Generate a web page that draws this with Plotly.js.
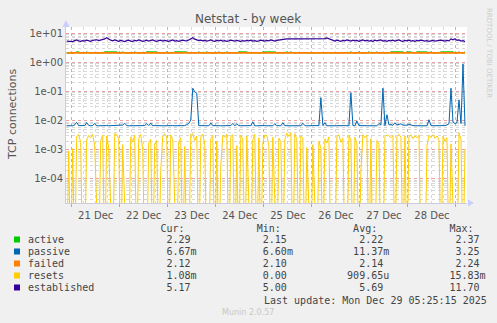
<!DOCTYPE html>
<html><head><meta charset="utf-8">
<script src="https://cdn.plot.ly/plotly-3.0.1.min.js"></script>
<style>html,body{margin:0;padding:0;background:#f0f0f0;}#chart{width:497px;height:323px;}</style>
</head><body><div id="chart"></div>
<script>
// ---- data (hourly samples, first sample 2025-12-20 21:30) ----
const seriesNames = ['active','passive','failed','resets','established'];
const seriesColors = ['#00cc00','#0066b3','#ff8000','#ffcc00','#330099'];
const startTime = '2025-12-20T21:30:00Z';

const active = [
2.13,2.13,2.12,2.14,2.13,2.32,2.31,2.13,2.14,2.13,
2.31,2.12,2.13,2.13,2.14,2.13,2.12,2.13,2.13,2.32,
2.31,2.33,2.30,2.32,2.31,2.30,2.14,2.13,2.31,2.12,
2.13,2.14,2.13,2.13,2.31,2.13,2.13,2.14,2.13,2.12,
2.32,2.30,2.31,2.33,2.30,2.31,2.13,2.13,2.14,2.13,
2.31,2.13,2.13,2.14,2.32,2.30,2.31,2.33,2.30,2.32,
2.31,2.14,2.15,2.16,2.14,2.13,2.31,2.12,2.13,2.14,
2.32,2.13,2.12,2.13,2.14,2.13,2.31,2.12,2.13,2.13,
2.31,2.13,2.12,2.13,2.13,2.14,2.32,2.30,2.31,2.33,
2.31,2.14,2.13,2.12,2.13,2.13,2.14,2.13,2.31,2.32,
2.30,2.31,2.33,2.30,2.31,2.13,2.13,2.14,2.13,2.13,
2.31,2.14,2.32,2.14,2.14,2.14,2.14,2.14,2.14,2.14,
2.14,2.14,2.14,2.14,2.14,2.14,2.14,2.14,2.14,2.15,
2.16,2.14,2.13,2.13,2.12,2.13,2.14,2.13,2.13,2.12,
2.13,2.14,2.32,2.13,2.12,2.13,2.31,2.14,2.13,2.12,
2.13,2.32,2.14,2.13,2.12,2.31,2.13,2.14,2.13,2.13,
2.12,2.13,2.32,2.30,2.31,2.33,2.30,2.31,2.32,2.13,
2.31,2.32,2.30,2.14,2.13,2.32,2.31,2.30,2.33,2.31,
2.30,2.12,2.31,2.13,2.14,2.13,2.13,2.31,2.32,2.30,
2.33,2.31,2.30,2.32,2.13,2.13,2.31,2.13,2.13,2.29];

const passive = [
.0067,.0067,.0068,.0067,.0072,.0088,.0068,.0067,.0067,.0068,
.0086,.0069,.0067,.0068,.0082,.0067,.0067,.0068,.0067,.0067,
.0068,.0067,.0067,.0068,.0067,.0067,.0068,.0067,.0071,.0082,
.0068,.0067,.0067,.0068,.0067,.0067,.0068,.0067,.0067,.0068,
.0080,.0068,.0083,.0067,.0068,.0067,.0067,.0068,.0067,.0067,
.0068,.0067,.0067,.0068,.0067,.0067,.0068,.0067,.0067,.0068,
.0074,.0080,.0105,.13,.098,.088,.0068,.0067,.0067,.0068,
.0067,.0067,.0084,.0068,.0067,.0067,.0068,.0067,.0067,.0068,
.0067,.0067,.0068,.0081,.0067,.0078,.0068,.0067,.0067,.0068,
.0067,.0067,.0068,.0092,.0067,.0067,.0068,.0067,.0067,.0068,
.0067,.0067,.0068,.0067,.0079,.0067,.0068,.0067,.0085,.0068,
.0067,.0067,.0068,.0067,.0067,.0067,.0068,.0067,.0082,.0068,
.0067,.0067,.0068,.0067,.0067,.0067,.0068,.062,.0068,.0085,
.0067,.0067,.0068,.0067,.0067,.0067,.0068,.0067,.0067,.0068,
.0067,.0067,.092,.0068,.0067,.0098,.0068,.0067,.0067,.0068,
.0067,.0067,.0068,.0067,.0067,.0067,.0080,.0072,.13,.0068,
.016,.0072,.0074,.0070,.0085,.0072,.0074,.0078,.0071,.0072,
.0070,.0076,.0070,.0068,.0067,.0067,.0068,.0067,.0067,.0068,
.0067,.0108,.0068,.0067,.0067,.0067,.0068,.0067,.0067,.0068,
.0072,.0078,.13,.0090,.0080,.0086,.052,.0080,.88,.00667];

const failed = [
2.13,2.13,2.12,2.14,2.13,2.13,2.12,2.13,2.14,2.13,
2.13,2.12,2.13,2.13,2.14,2.13,2.12,2.13,2.13,2.14,
2.15,2.14,2.13,2.13,2.12,2.13,2.14,2.13,2.13,2.12,
2.13,2.14,2.13,2.13,2.12,2.13,2.13,2.14,2.13,2.12,
2.13,2.14,2.13,2.15,2.13,2.12,2.13,2.13,2.14,2.13,
2.12,2.13,2.13,2.14,2.13,2.13,2.12,2.13,2.14,2.13,
2.13,2.14,2.15,2.16,2.14,2.13,2.13,2.12,2.13,2.14,
2.13,2.13,2.12,2.13,2.14,2.13,2.13,2.12,2.13,2.13,
2.14,2.13,2.12,2.13,2.13,2.14,2.13,2.13,2.12,2.13,
2.13,2.14,2.13,2.12,2.13,2.13,2.14,2.13,2.13,2.12,
2.13,2.14,2.13,2.13,2.12,2.13,2.13,2.14,2.13,2.13,
2.14,2.14,2.14,2.14,2.14,2.14,2.14,2.14,2.14,2.14,
2.14,2.14,2.14,2.14,2.14,2.14,2.14,2.14,2.14,2.15,
2.16,2.14,2.13,2.13,2.12,2.13,2.14,2.13,2.13,2.12,
2.13,2.14,2.13,2.13,2.12,2.13,2.13,2.14,2.13,2.12,
2.13,2.13,2.14,2.13,2.12,2.13,2.13,2.14,2.13,2.13,
2.12,2.13,2.14,2.13,2.13,2.12,2.13,2.13,2.14,2.13,
2.13,2.12,2.13,2.14,2.13,2.13,2.12,2.13,2.13,2.14,
2.13,2.12,2.13,2.13,2.14,2.13,2.13,2.12,2.13,2.13,
2.14,2.13,2.15,2.14,2.13,2.13,2.12,2.13,2.13,2.12];

const resets = [
0,9e-4,0,1.1e-3,0,2.9e-3,3.3e-3,1.8e-3,0,0,
2.2e-3,3.1e-3,2.6e-3,3.4e-3,1.4e-3,0,0,2.0e-3,3.2e-3,0,
3.0e-3,1.2e-3,0,0,3.6e-3,3.3e-3,2.4e-3,0,1.5e-3,0,
0,0,2.7e-3,1.9e-3,3.2e-3,0,2.5e-3,3.4e-3,1.1e-3,0,
0,1.8e-3,2.3e-3,0,1.6e-3,2.1e-3,0,2e-4,3.0e-3,3.5e-3,
2.8e-3,0,3.3e-3,2.2e-3,0,0,1.9e-3,2.6e-3,0,1.3e-3,
0,0,3.4e-3,3.6e-3,2.1e-3,3.0e-3,0,2.8e-3,3.5e-3,1.6e-3,
0,0,2.4e-3,3.1e-3,0,2.0e-3,0,3e-4,3.2e-3,2.7e-3,
3.5e-3,0,2.9e-3,3.3e-3,0,1.4e-3,0,3.1e-3,2.4e-3,0,
3.0e-3,0,0,2.2e-3,3.4e-3,0,2.6e-3,0,1.8e-3,3.2e-3,
3.1e-3,1.4e-3,0,2.7e-3,0,0,2.5e-3,1.9e-3,0,2.3e-3,
3.8e-3,2.9e-3,3.9e-3,0,3.6e-3,2.2e-3,0,3.0e-3,2.6e-3,0,
1.2e-3,0,0,1.5e-3,0,0,2.0e-3,1.1e-3,0,2.4e-3,
1.7e-3,2.8e-3,0,0,0,2.9e-3,3.3e-3,1.8e-3,2.5e-3,0,
0,3.1e-3,2.2e-3,0,2.7e-3,1.6e-3,0,2e-4,3.3e-3,2.6e-3,
3.2e-3,0,2.4e-3,0,0,2.1e-3,1.5e-3,0,0,2.8e-3,
3.3e-3,3.0e-3,2.6e-3,3.1e-3,0,2.9e-3,3.4e-3,2.7e-3,0,3.0e-3,
0,2.8e-3,3.3e-3,2.4e-3,3.0e-3,2.6e-3,3.2e-3,0,0,0,
1.4e-3,3.1e-3,2.7e-3,3.3e-3,2.5e-3,3.0e-3,2.2e-3,0,2.9e-3,2.0e-3,
2.6e-3,0,1.6e-3,0,0,0,3.8e-3,2.3e-3,0,1.08e-3];

const established = [
5.4,5.3,5.5,5.2,5.6,5.9,5.5,5.3,5.6,5.4,
5.8,5.5,5.3,5.7,5.9,6.0,5.6,5.8,6.1,6.4,
7.0,6.2,5.8,5.5,5.9,5.6,5.3,5.7,5.5,5.2,
5.6,5.8,5.4,5.3,5.7,5.5,5.9,5.6,5.3,5.5,
5.8,5.4,5.6,5.9,5.5,5.3,5.6,5.8,5.4,5.7,
5.5,5.3,5.6,5.9,5.4,5.6,5.3,5.5,5.8,5.6,
5.5,5.9,6.4,7.1,6.3,5.9,5.6,5.8,5.5,5.7,
5.4,5.6,5.9,5.5,5.3,5.7,5.5,5.8,5.4,5.6,
5.3,5.5,5.8,5.6,5.4,5.7,5.5,5.3,5.6,5.4,
5.7,5.5,5.8,5.4,5.6,5.3,5.5,5.8,5.6,5.4,
5.7,5.5,5.9,5.6,5.4,5.7,5.9,6.1,6.3,6.4,
6.4,6.4,6.3,6.4,6.4,6.4,6.4,6.3,6.4,6.4,
6.4,6.4,6.4,6.3,6.4,6.4,6.4,6.4,6.4,6.6,
6.9,6.4,5.9,5.6,5.4,5.8,5.5,5.3,5.7,5.5,
5.9,5.6,5.4,5.8,5.5,5.7,5.3,5.6,5.9,5.5,
5.7,5.4,5.6,5.3,5.8,5.5,5.7,5.9,5.4,5.6,
5.3,5.7,5.5,5.8,5.4,5.6,5.9,5.5,5.3,5.7,
5.5,5.8,5.4,5.6,5.3,5.7,5.5,5.8,5.6,5.4,
5.6,5.3,5.5,5.7,5.4,5.6,5.5,5.8,5.6,5.4,
5.7,5.5,6.4,6.0,6.5,5.7,5.9,5.4,5.6,5.17];

// legend table values
const curVals = ['2.29','6.67m','2.12','1.08m','5.17'];
const minVals = ['2.15','6.60m','2.10','0.00','5.00'];
const avgVals = ['2.22','11.37m','2.14','909.65u','5.69'];
const maxVals = ['2.37','3.25','2.24','15.83m','11.70'];
const colHeaders = ['Cur:','Min:','Avg:','Max:'];

const yTickVals = [1e-4,1e-3,1e-2,1e-1,1,10];
const yTickText = ['1e-04','1e-03','1e-02','1e-01','1e+00','1e+01'];

const titleText = 'Netstat - by week';
const yTitleText = 'TCP connections';
const lastUpdate = 'Last update: Mon Dec 29 05:25:15 2025';
const sideText = 'RRDTOOL / TOBI OETIKER';
const footerText = 'Munin 2.0.57';

// ---- build ----
const t0 = Date.parse(startTime);
const times = active.map((_, i) => new Date(t0 + i*3600000).toISOString().slice(0,16).replace('T',' '));
const all = [active, passive, failed, resets, established];
const LOGFLOOR = 1e-7; // zero values drawn to the bottom of the log axis (like rrdtool)
const widths = [1, 1, 1.6, 1, 1.2];

const traces = all.map((arr, k) => ({
  x: times, y: arr.map(v => v > 0 ? v : LOGFLOOR),
  type: 'scatter', mode: 'lines', name: seriesNames[k],
  line: {color: seriesColors[k], width: widths[k]}, hoverinfo: 'skip'
}));

const L=66, R=467, T=27, B=203, W=R-L, H=B-T;
const px = x => (x - L)/W, py = y => (B - y)/H;

const yMinor = [];
for (let e = -5; e <= 1; e++) for (let m = 2; m <= 9; m++) yMinor.push(m*Math.pow(10,e));

const NB = '\u00a0';
const sp = n => NB.repeat(n);
function cell(s){ const m = s.match(/^([0-9.]+)([a-zA-Z]?)$/); const num = m[1], suf = m[2] || ''; return sp(6-num.length) + num + suf; }

const mono = {family: 'DejaVu Sans Mono, monospace', size: 10, color: '#444'};
const annotations = [];
annotations.push({xref:'paper', yref:'paper', x: px(26), y: py(228), xanchor:'left', yanchor:'middle', showarrow:false,
  text: sp(22) + colHeaders.join(sp(12)), font: mono});
seriesNames.forEach((n, k) => {
  const c = [curVals[k], minVals[k], avgVals[k], maxVals[k]].map(cell);
  const pad = s => s + sp(16 - s.length);
  const row = n + sp(21 - n.length) + pad(c[0]) + pad(c[1]) + pad(c[2]) + c[3];
  annotations.push({xref:'paper', yref:'paper', x: px(26), y: py(239.5 + 12*k), xanchor:'left', yanchor:'middle', showarrow:false, text: row, font: mono});
});
annotations.push({xref:'paper', yref:'paper', x: px(262), y: py(300), xanchor:'left', yanchor:'middle', showarrow:false, text: lastUpdate.replace(/ /g, NB), font: mono});
annotations.push({xref:'paper', yref:'paper', x: px(248), y: py(312), xanchor:'center', yanchor:'middle', showarrow:false, text: footerText, font:{family:'DejaVu Sans', size:8, color:'#c8c8c8'}});
annotations.push({xref:'paper', yref:'paper', x: px(248), y: py(19.5), xanchor:'center', yanchor:'middle', showarrow:false, text: titleText, font:{family:'DejaVu Sans', size:12, color:'#555'}});
annotations.push({xref:'paper', yref:'paper', x: px(12), y: py(115), xanchor:'center', yanchor:'middle', showarrow:false, textangle:-90, text: yTitleText, font:{family:'DejaVu Sans', size:11, color:'#555'}});
annotations.push({xref:'paper', yref:'paper', x: px(489), y: py(53), xanchor:'center', yanchor:'middle', showarrow:false, textangle:90, text: sideText, font:{family:'DejaVu Sans', size:7, color:'#cccccc'}});

const shapes = seriesColors.map((c, k) => ({type:'rect', xref:'paper', yref:'paper', x0: px(14), x1: px(20), y0: py(242.5 + 12*k), y1: py(236.5 + 12*k), fillcolor: c, line:{width:0}}));
// axis arrows
shapes.push({type:'path', xref:'paper', yref:'paper', path: `M ${px(468)} ${py(199.5)} L ${px(474)} ${py(203)} L ${px(468)} ${py(206.5)} Z`, fillcolor:'#ccccff', line:{width:0}});
shapes.push({type:'path', xref:'paper', yref:'paper', path: `M ${px(62.5)} ${py(27)} L ${px(66)} ${py(20)} L ${px(69.5)} ${py(27)} Z`, fillcolor:'#ccccff', line:{width:0}});

const layout = {
  width: 497, height: 323,
  margin: {l: L, r: 497 - R, t: T, b: 323 - B, pad: 0},
  paper_bgcolor: '#f0f0f0', plot_bgcolor: '#ffffff',
  showlegend: false,
  font: {family: 'DejaVu Sans', size: 10, color: '#555'},
  xaxis: {
    type: 'date', range: ['2025-12-20 21:10', '2025-12-29 05:30'],
    tick0: '2025-12-21', dtick: 86400000, tickformat: '%d %b', ticklabelmode: 'period',
    showgrid: true, gridcolor: 'rgba(230,120,120,0.7)', griddash: 'dot', gridwidth: 1,
    ticks: 'outside', ticklen: 3, tickcolor: 'rgba(230,120,120,0.8)',
    minor: {dtick: 21600000, showgrid: true, gridcolor: '#d8d8d8', griddash: 'dot', ticks: ''},
    showline: true, linecolor: '#ccccdd', linewidth: 1, zeroline: false,
    tickfont: {family: 'DejaVu Sans', size: 10, color: '#555'}, fixedrange: true
  },
  yaxis: {
    type: 'log', range: [-4.824, 1.216],
    tickmode: 'array', tickvals: yTickVals, ticktext: yTickText,
    showgrid: true, gridcolor: 'rgba(230,120,120,0.7)', griddash: 'dot', gridwidth: 1,
    minor: {tickmode: 'array', tickvals: yMinor, showgrid: true, gridcolor: '#d8d8d8', griddash: 'dot', ticks: ''},
    ticks: '', showline: true, linecolor: '#ccccdd', linewidth: 1, zeroline: false,
    tickfont: {family: 'DejaVu Sans', size: 10, color: '#555'}, fixedrange: true
  },
  annotations, shapes
};

Plotly.newPlot('chart', traces, layout, {staticPlot: true, displayModeBar: false});
</script></body></html>
